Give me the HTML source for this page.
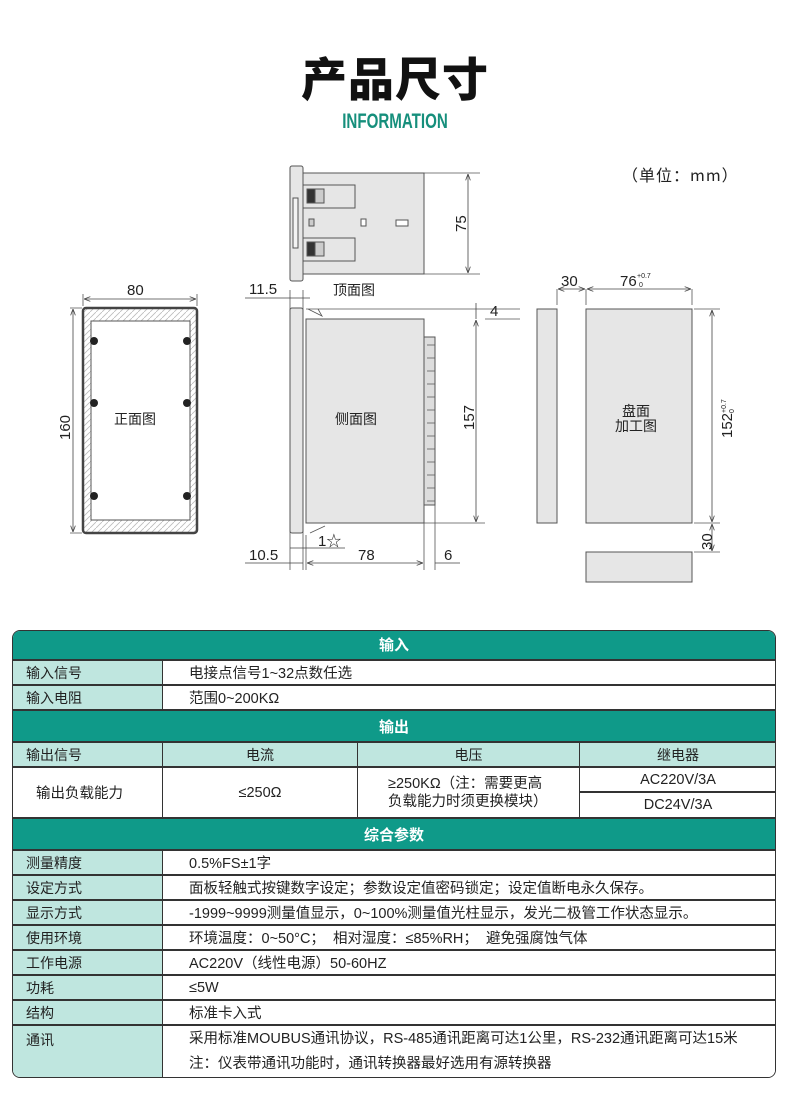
<!DOCTYPE html>
<html><head><meta charset="utf-8"><style>
body{margin:0;width:790px;height:1105px;background:#fff;position:relative;overflow:hidden;font-family:"Liberation Sans","Noto Sans CJK SC",sans-serif}
.a{position:absolute}
.c{position:absolute;box-sizing:border-box;display:flex;align-items:center;font-size:14px;color:#222;border-bottom:2px solid #333}
.h{background:#0f9a89;color:#fff;font-weight:bold;font-size:15px;justify-content:center}
.l{background:#bfe6df;padding-left:14px;border-right:1px solid #333}
.v{background:#fff;padding-left:26px;font-size:14.5px}
.m{justify-content:center;padding-left:0}
</style></head><body>
<div class="a" style="left:300px;top:44px;width:190px;text-align:center;font-size:46px;font-weight:900;color:#111;font-family:'Noto Sans CJK SC',sans-serif;line-height:66px;letter-spacing:1px">产品尺寸</div>
<div class="a" style="left:300px;top:110px;width:190px;text-align:center;font-size:21px;font-weight:bold;color:#168f7c;transform:scaleX(0.72);letter-spacing:0px">INFORMATION</div>
<div class="a" style="left:622px;top:162px;font-size:16px;color:#222;font-family:'Noto Sans CJK SC',sans-serif;letter-spacing:1px">（单位：mm）</div>

<svg class="a" style="left:0;top:0" width="790" height="600" font-family="Liberation Sans,Noto Sans CJK SC,sans-serif">
<defs><marker id="ar" viewBox="0 0 8 6" refX="8" refY="3" markerWidth="8" markerHeight="6" orient="auto-start-reverse"><path d="M0,0L8,3L0,6" fill="none" stroke="#444" stroke-width="1"/></marker>
<pattern id="hp" width="6" height="6" patternUnits="userSpaceOnUse"><path d="M0,6L6,0" stroke="#bbb" stroke-width="0.8"/></pattern></defs>
<g stroke="#555" stroke-width="1" fill="#e6e6e6">
<rect x="290" y="166" width="13" height="115" rx="2"/>
<rect x="293" y="198" width="5" height="50" fill="#f3f3f3"/>
<rect x="303" y="173" width="121" height="101"/>
<rect x="303" y="185" width="52" height="23" fill="#e6e6e6"/>
<rect x="303" y="238" width="52" height="23" fill="#e6e6e6"/>
<rect x="307" y="189" width="8" height="14" fill="#333"/><rect x="315" y="189" width="9" height="14" fill="#ccc"/>
<rect x="307" y="242" width="8" height="14" fill="#333"/><rect x="315" y="242" width="9" height="14" fill="#ccc"/>
<rect x="309" y="219" width="5" height="7" fill="#ccc"/>
<rect x="361" y="219" width="5" height="7" fill="#fff"/>
<rect x="396" y="220" width="12" height="6" fill="#fff"/>
<rect x="83" y="308" width="114" height="225" rx="3" stroke="#444" stroke-width="2.5" fill="url(#hp)"/>
<path d="M91,321H190V520H91Z" fill="#fff"/>
<rect x="290" y="308" width="13" height="225" rx="2"/>
<rect x="306" y="319" width="118" height="204"/>
<rect x="424" y="337" width="11" height="168" fill="#ddd"/>
<rect x="537" y="309" width="20" height="214"/>
<rect x="586" y="309" width="106" height="214"/>
<rect x="586" y="552" width="106" height="30"/>
</g>
<g fill="#222">
<circle cx="94" cy="341" r="4"/><circle cx="187" cy="341" r="4"/>
<circle cx="94" cy="403" r="4"/><circle cx="187" cy="403" r="4"/>
<circle cx="94" cy="496" r="4"/><circle cx="187" cy="496" r="4"/>
</g>
<g stroke="#555" stroke-width="0.8" fill="none">
<path d="M306,309H520M308,309L322,316L318,309M310,533L325,526M306,523H420"/>
<path d="M427,345H435M427,358H435M427,371H435M427,384H435M427,397H435M427,410H435M427,423H435M427,436H435M427,449H435M427,462H435M427,475H435M427,488H435M427,501H435"/>
<path d="M83,294V306M197,294V306M70,308H82M70,533H82"/>
<path d="M424,173H480M424,274H480"/>
<path d="M290,290V570M303,290V570M306,535V570M424,523V570M435,505V570"/>
<path d="M424,523H485M520,319H485"/>
<path d="M557,289V305M586,289V305M692,289V305M694,309H720M694,523H720M694,552H720"/>
</g>
<g stroke="#444" stroke-width="0.8" fill="none" marker-start="url(#ar)" marker-end="url(#ar)">
<line x1="84" y1="299" x2="196" y2="299"/>
<line x1="73" y1="309" x2="73" y2="532"/>
<line x1="468" y1="174" x2="468" y2="273"/>
<line x1="476" y1="320" x2="476" y2="522"/>
<line x1="558" y1="289" x2="585" y2="289"/>
<line x1="587" y1="289" x2="691" y2="289"/>
<line x1="712" y1="310" x2="712" y2="522"/>
<line x1="712" y1="524" x2="712" y2="551"/>
<line x1="307" y1="563" x2="423" y2="563"/>
</g>
<g stroke="#444" stroke-width="0.8" fill="none">
<path d="M245,298H310M245,563H303M435,563H460M290,548H345M476,309V319M476,303V309"/>
</g>
<g font-size="15" fill="#222">
<text x="127" y="295">80</text>
<text x="249" y="294">11.5</text>
<text x="333" y="295" font-size="14">顶面图</text>
<text x="114" y="424" font-size="14">正面图</text>
<text x="335" y="424" font-size="14">侧面图</text>
<text x="490" y="316">4</text>
<text x="249" y="560">10.5</text>
<text x="318" y="546">1☆</text>
<text x="358" y="560">78</text>
<text x="444" y="560">6</text>
<text x="561" y="286">30</text>
<text x="620" y="286">76</text>
<text x="637" y="278" font-size="7">+0.7</text>
<text x="639" y="287" font-size="7">0</text>
<text x="622" y="416" font-size="14">盘面</text>
<text x="615" y="431" font-size="14">加工图</text>
<text transform="translate(70,440) rotate(-90)">160</text>
<text transform="translate(466,232) rotate(-90)">75</text>
<text transform="translate(474,430) rotate(-90)">157</text>
<text transform="translate(732,438) rotate(-90)">152</text>
<text transform="translate(726,413) rotate(-90)" font-size="7">+0.7</text>
<text transform="translate(734,413) rotate(-90)" font-size="7">0</text>
<text transform="translate(712,550) rotate(-90)">30</text>
</g>
</svg>

<div class="a" style="left:12px;top:630px;width:764px;height:448px;border:1.5px solid #333;border-radius:8px;overflow:hidden;box-sizing:border-box">
<div style="position:relative;left:-13px;top:-631px">
<div class="c h" style="left:12px;top:630px;width:764px;height:31px">输入</div>
<div class="c l" style="left:12px;top:661px;width:151px;height:25px">输入信号</div><div class="c v" style="left:163px;top:661px;width:613px;height:25px">电接点信号1~32点数任选</div>
<div class="c l" style="left:12px;top:686px;width:151px;height:25px">输入电阻</div><div class="c v" style="left:163px;top:686px;width:613px;height:25px">范围0~200KΩ</div>
<div class="c h" style="left:12px;top:711px;width:764px;height:32px">输出</div>
<div class="c l" style="left:12px;top:743px;width:151px;height:25px">输出信号</div>
<div class="c l m" style="left:163px;top:743px;width:195px;height:25px">电流</div>
<div class="c l m" style="left:358px;top:743px;width:222px;height:25px">电压</div>
<div class="c l m" style="left:580px;top:743px;width:196px;height:25px;border-right:none">继电器</div>
<div class="c v" style="left:12px;top:768px;width:151px;height:51px;padding-left:24px;border-right:1px solid #333">输出负载能力</div>
<div class="c v m" style="left:163px;top:768px;width:195px;height:51px;border-right:1px solid #333">≤250Ω</div>
<div class="c v" style="left:358px;top:768px;width:222px;height:51px;padding-left:30px;border-right:1px solid #333;line-height:18px">≥250KΩ（注：需要更高<br>负载能力时须更换模块）</div>
<div class="c v m" style="left:580px;top:768px;width:196px;height:25px">AC220V/3A</div>
<div class="c v m" style="left:580px;top:793px;width:196px;height:26px">DC24V/3A</div>
<div class="c h" style="left:12px;top:819px;width:764px;height:32px">综合参数</div>
<div class="c l" style="left:12px;top:851px;width:151px;height:25px">测量精度</div><div class="c v" style="left:163px;top:851px;width:613px;height:25px">0.5%FS±1字</div>
<div class="c l" style="left:12px;top:876px;width:151px;height:25px">设定方式</div><div class="c v" style="left:163px;top:876px;width:613px;height:25px">面板轻触式按键数字设定；参数设定值密码锁定；设定值断电永久保存。</div>
<div class="c l" style="left:12px;top:901px;width:151px;height:25px">显示方式</div><div class="c v" style="left:163px;top:901px;width:613px;height:25px">-1999~9999测量值显示，0~100%测量值光柱显示，发光二极管工作状态显示。</div>
<div class="c l" style="left:12px;top:926px;width:151px;height:25px">使用环境</div><div class="c v" style="left:163px;top:926px;width:613px;height:25px">环境温度：0~50°C；&nbsp; 相对湿度：≤85%RH；&nbsp; 避免强腐蚀气体</div>
<div class="c l" style="left:12px;top:951px;width:151px;height:25px">工作电源</div><div class="c v" style="left:163px;top:951px;width:613px;height:25px">AC220V（线性电源）50-60HZ</div>
<div class="c l" style="left:12px;top:976px;width:151px;height:25px">功耗</div><div class="c v" style="left:163px;top:976px;width:613px;height:25px">≤5W</div>
<div class="c l" style="left:12px;top:1001px;width:151px;height:25px">结构</div><div class="c v" style="left:163px;top:1001px;width:613px;height:25px">标准卡入式</div>
<div class="c l" style="left:12px;top:1026px;width:151px;height:52px;align-items:flex-start;padding-top:4px;border-bottom:none">通讯</div>
<div class="c v" style="left:163px;top:1026px;width:613px;height:52px;line-height:25px;border-bottom:none;font-size:14.5px;white-space:nowrap">采用标准MOUBUS通讯协议，RS-485通讯距离可达1公里，RS-232通讯距离可达15米<br>注：仪表带通讯功能时，通讯转换器最好选用有源转换器</div>
</div></div>
</body></html>
